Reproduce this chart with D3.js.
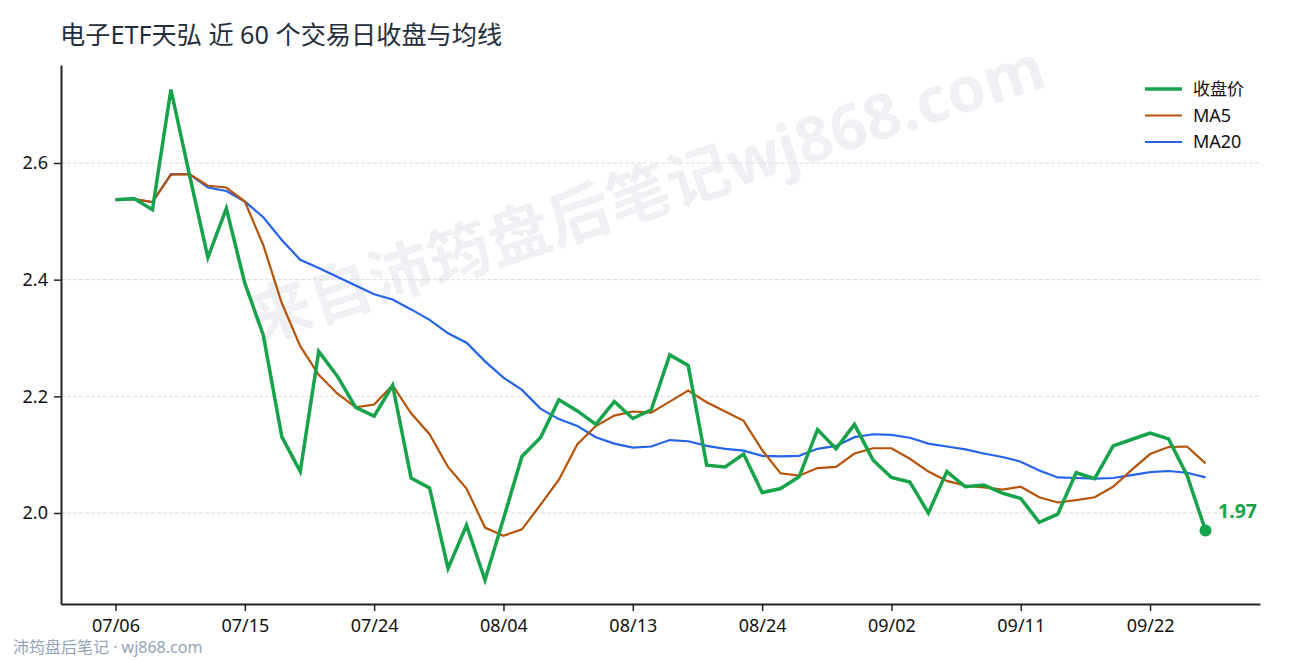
<!DOCTYPE html>
<html>
<head>
<meta charset="utf-8">
<script src="https://d3js.org/d3.v7.min.js"></script>
<style>
  html, body { margin: 0; padding: 0; background: #fff; }
  text { font-family: "Noto Sans", "Noto Sans CJK SC", sans-serif; }
</style>
</head>
<body>
<div id="chart-area"></div>
<script>
// values, one per trading day
var closeValues = [2.537, 2.539, 2.520, 2.726, 2.580, 2.438, 2.522, 2.394, 2.305, 2.131,
                   2.071, 2.277, 2.235, 2.181, 2.166, 2.219, 2.060, 2.043, 1.905, 1.979,
                   1.885, 1.990, 2.097, 2.129, 2.194, 2.175, 2.152, 2.191, 2.162, 2.177,
                   2.271, 2.253, 2.082, 2.079, 2.101, 2.035, 2.042, 2.062, 2.143, 2.110,
                   2.152, 2.091, 2.061, 2.053, 2.000, 2.071, 2.045, 2.048, 2.034, 2.025,
                   1.984, 1.998, 2.069, 2.059, 2.115, 2.126, 2.137, 2.127, 2.065, 1.970];
var ma5Values = [2.537, 2.538, 2.533, 2.580, 2.581, 2.561, 2.558, 2.534, 2.459, 2.360,
                 2.286, 2.237, 2.205, 2.181, 2.186, 2.219, 2.171, 2.135, 2.079, 2.042,
                 1.975, 1.961, 1.972, 2.014, 2.057, 2.118, 2.149, 2.167, 2.174, 2.172,
                 2.191, 2.210, 2.190, 2.174, 2.158, 2.108, 2.068, 2.064, 2.077, 2.079,
                 2.102, 2.111, 2.111, 2.093, 2.071, 2.055, 2.047, 2.044, 2.040, 2.045,
                 2.027, 2.018, 2.022, 2.027, 2.045, 2.074, 2.101, 2.113, 2.114, 2.085];
var ma20Values = [2.537, 2.538, 2.533, 2.581, 2.581, 2.558, 2.552, 2.534, 2.507, 2.468,
                  2.434, 2.420, 2.405, 2.390, 2.375, 2.366, 2.349, 2.331, 2.308, 2.292,
                  2.260, 2.232, 2.211, 2.179, 2.161, 2.149, 2.130, 2.119, 2.112, 2.114,
                  2.125, 2.123, 2.115, 2.110, 2.107, 2.098, 2.097, 2.098, 2.110, 2.115,
                  2.130, 2.135, 2.134, 2.129, 2.119, 2.114, 2.109, 2.102, 2.096, 2.088,
                  2.073, 2.061, 2.060, 2.059, 2.060, 2.065, 2.070, 2.072, 2.069, 2.061];
var xTickIndex = [0, 7, 14, 21, 28, 35, 42, 49, 56];
var xTickLabels = ["07/06", "07/15", "07/24", "08/04", "08/13", "08/24", "09/02", "09/11", "09/22"];
var yTicks = [2.0, 2.2, 2.4, 2.6];
var seriesNames = ["收盘价", "MA5", "MA20"];
var seriesColors = ["#16a34a", "#b45309", "#2563eb"];
var seriesWidths = [3.5, 2.2, 2.2];
var legendFontSizes = [17, 18, 18];

var margin = { left: 61, right: 30, top: 65, bottom: 56 };
var fullWidth = 1290, fullHeight = 660;
var width = fullWidth - margin.left - margin.right,
    height = fullHeight - margin.top - margin.bottom;

var svg = d3.select("#chart-area").append("svg")
    .attr("width", fullWidth)
    .attr("height", fullHeight)
    .style("display", "block");

// watermark goes under everything
svg.append("text")
    .attr("transform", "translate(648,198) rotate(-18)")
    .attr("text-anchor", "middle")
    .attr("dominant-baseline", "middle")
    .attr("font-size", 62.7)
    .attr("font-weight", 700)
    .attr("fill", "#0f2a5c")
    .attr("fill-opacity", 0.07)
    .text("来自沛筠盘后笔记wj868.com");

svg.append("text")
    .attr("x", 60)
    .attr("y", 44)
    .attr("font-size", 25.2)
    .attr("fill", "#1f2d3d")
    .text("电子ETF天弘 近 60 个交易日收盘与均线");

svg.append("text")
    .attr("x", 13)
    .attr("y", 653)
    .attr("font-size", 16)
    .attr("fill", "#94a3b8")
    .text("沛筠盘后笔记 · wj868.com");

var g = svg.append("g")
    .attr("transform", "translate(" + margin.left + "," + margin.top + ")");

// x scale, by trading day index
var x = d3.scaleLinear()
    .domain([-2.95, 61.95])
    .range([0, width]);

// y scale
var y = d3.scaleLinear()
    .domain([1.844, 2.768])
    .range([height, 0]);

// grid
g.append("g")
    .selectAll("line")
    .data(yTicks)
    .enter().append("line")
    .attr("x1", 0)
    .attr("x2", width)
    .attr("y1", function(d) { return y(d); })
    .attr("y2", function(d) { return y(d); })
    .attr("stroke", "#dcdcdc")
    .attr("stroke-width", 1)
    .attr("stroke-dasharray", "4,2");

var xAxisCall = d3.axisBottom(x)
    .tickValues(xTickIndex)
    .tickFormat(function(d, i) { return xTickLabels[i]; })
    .tickSize(7)
    .tickSizeOuter(0)
    .tickPadding(8);
var xAxisGroup = g.append("g")
    .attr("transform", "translate(0," + height + ")")
    .call(xAxisCall);

var yAxisCall = d3.axisLeft(y)
    .tickValues(yTicks)
    .tickFormat(d3.format(".1f"))
    .tickSize(7)
    .tickSizeOuter(0)
    .tickPadding(6);
var yAxisGroup = g.append("g").call(yAxisCall);

[xAxisGroup, yAxisGroup].forEach(function(a) {
    a.selectAll("path").attr("stroke", "#222").attr("stroke-width", 2);
    a.selectAll("line").attr("stroke", "#222").attr("stroke-width", 1.5);
    a.selectAll("text")
        .attr("font-size", 18)
        .attr("fill", "#111")
        .style("font-family", '"Noto Sans", "Noto Sans CJK SC", sans-serif');
});

var line = d3.line()
    .x(function(d, i) { return x(i); })
    .y(function(d) { return y(d); });

// drawn MA20 first so the close stays on top
[2, 1, 0].forEach(function(k) {
    var values = [closeValues, ma5Values, ma20Values][k];
    g.append("path")
        .datum(values)
        .attr("fill", "none")
        .attr("stroke", seriesColors[k])
        .attr("stroke-width", seriesWidths[k])
        .attr("stroke-linejoin", "miter")
        .attr("d", line);
});

// last close marker
var lastIndex = closeValues.length - 1;
g.append("circle")
    .attr("cx", x(lastIndex))
    .attr("cy", y(closeValues[lastIndex]))
    .attr("r", 6)
    .attr("fill", seriesColors[0]);
g.append("text")
    .attr("x", x(lastIndex) + 12.5)
    .attr("y", y(closeValues[lastIndex]) - 13)
    .attr("font-size", 19.5)
    .attr("font-weight", 700)
    .attr("fill", seriesColors[0])
    .text(d3.format(".2f")(closeValues[lastIndex]));

// legend
var legend = svg.append("g")
    .selectAll("g")
    .data(seriesNames)
    .enter().append("g")
    .attr("transform", function(d, i) { return "translate(1145," + (89 + i * 26.5) + ")"; });
legend.append("line")
    .attr("x1", 0)
    .attr("x2", 37)
    .attr("stroke", function(d, i) { return seriesColors[i]; })
    .attr("stroke-width", function(d, i) { return seriesWidths[i]; });
legend.append("text")
    .attr("x", 48)
    .attr("y", 6)
    .attr("font-size", function(d, i) { return legendFontSizes[i]; })
    .attr("fill", "#111")
    .text(function(d) { return d; });
</script>
</body>
</html>
